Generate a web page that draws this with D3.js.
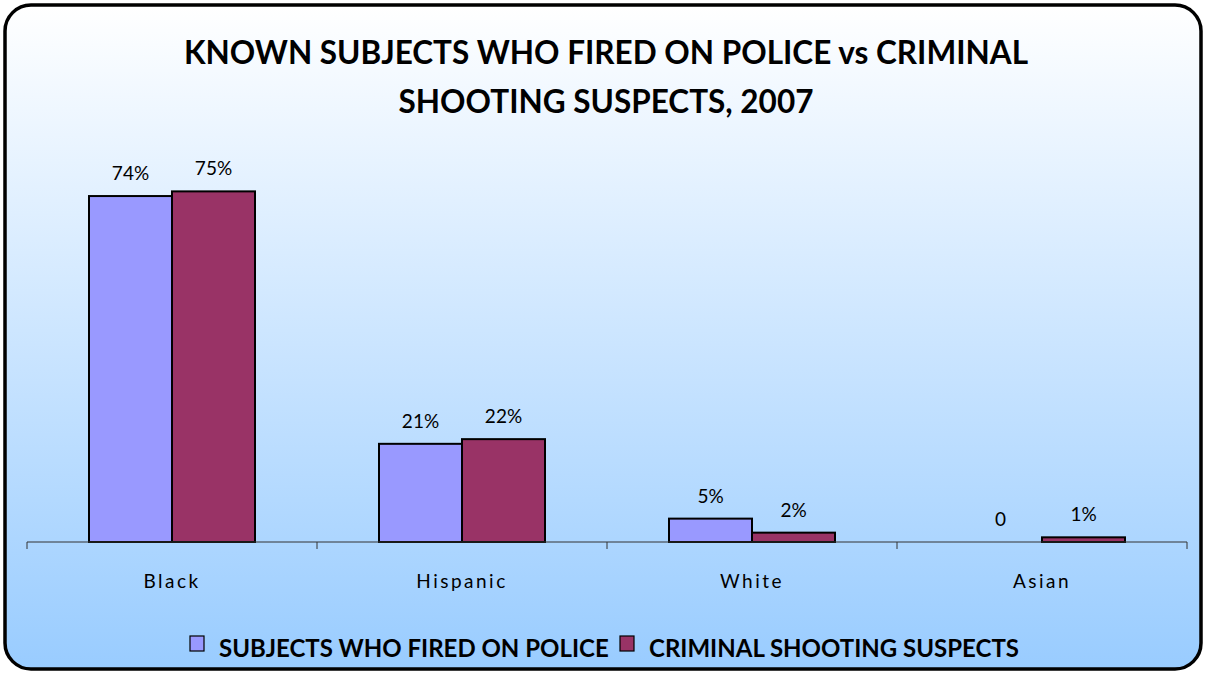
<!DOCTYPE html>
<html>
<head>
<meta charset="utf-8">
<script src="https://cdn.jsdelivr.net/npm/d3@7"></script>
<style>
  html, body { margin: 0; padding: 0; background: #ffffff; }
  svg { display: block; }
</style>
</head>
<body>
<svg id="chart" width="1206" height="673"></svg>
<script>
// Chart data
const categories = ["Black", "Hispanic", "White", "Asian"];
const seriesNames = ["SUBJECTS WHO FIRED ON POLICE", "CRIMINAL SHOOTING SUSPECTS"];
const firedOnPolice = [74, 21, 5, 0];
const shootingSuspects = [75, 22, 2, 1];
const firedLabels = ["74%", "21%", "5%", "0"];
const suspectLabels = ["75%", "22%", "2%", "1%"];
const titleLines = ["KNOWN SUBJECTS WHO FIRED ON POLICE vs CRIMINAL", "SHOOTING SUSPECTS, 2007"];

const colors = ["#9999ff", "#993366"];
const W = 1206, H = 673;
const svg = d3.select("#chart");

// Background gradient panel with rounded border
const defs = svg.append("defs");
const grad = defs.append("linearGradient").attr("id", "bg").attr("x1", 0).attr("y1", 0).attr("x2", 0).attr("y2", 1);
grad.append("stop").attr("offset", "0%").attr("stop-color", "#ffffff");
grad.append("stop").attr("offset", "100%").attr("stop-color", "#99ccff");

svg.append("rect")
  .attr("x", 5).attr("y", 5).attr("width", W - 10).attr("height", H - 9)
  .attr("rx", 26).attr("ry", 26)
  .attr("fill", "url(#bg)")
  .attr("stroke", "#000").attr("stroke-width", 3.5);

const font = "Lato, 'Open Sans', sans-serif";

// Title
svg.append("g").selectAll("text").data(titleLines).join("text")
  .attr("x", 606).attr("y", (d, i) => 64 + i * 49)
  .attr("text-anchor", "middle")
  .attr("font-family", font).attr("font-weight", "bold")
  .attr("font-size", 31.5).attr("fill", "#000")
  .text(d => d);

// Scales
const x0 = d3.scaleBand().domain(categories).range([27, 1187]).paddingInner(0).paddingOuter(0);
const x1 = d3.scaleBand().domain([0, 1]).range([62, x0.bandwidth() - 62]);
const y = d3.scaleLinear().domain([0, 80]).range([542, 168]);

const data = categories.map((c, i) => ({
  cat: c,
  vals: [
    { s: 0, v: firedOnPolice[i], label: firedLabels[i] },
    { s: 1, v: shootingSuspects[i], label: suspectLabels[i] }
  ]
}));

const groups = svg.append("g").selectAll("g").data(data).join("g")
  .attr("transform", d => `translate(${x0(d.cat)},0)`);

groups.selectAll("rect").data(d => d.vals.filter(v => v.v > 0)).join("rect")
  .attr("x", d => x1(d.s))
  .attr("y", d => y(d.v))
  .attr("width", x1.bandwidth())
  .attr("height", d => y(0) - y(d.v))
  .attr("fill", d => colors[d.s])
  .attr("stroke", "#000").attr("stroke-width", 2);

groups.selectAll("text").data(d => d.vals).join("text")
  .attr("x", d => x1(d.s) + x1.bandwidth() / 2)
  .attr("y", d => y(d.v) - 16)
  .attr("text-anchor", "middle")
  .attr("font-family", font).attr("font-size", 19).attr("fill", "#000")
  .text(d => d.label);

// Category axis
const axis = d3.axisBottom(x0).tickSize(0).tickPadding(0);
const axG = svg.append("g").attr("transform", `translate(0,${y(0)})`).call(axis);
axG.select(".domain").attr("stroke", "#333").attr("stroke-width", 1).attr("d", "M27,0H1187");
axG.selectAll(".tick text")
  .attr("dy", 0).attr("y", 46)
  .attr("font-family", font).attr("font-size", 19).attr("fill", "#000")
  .attr("letter-spacing", "2.5px");
// Category boundary tick marks
svg.append("g").selectAll("line").data(d3.range(categories.length + 1)).join("line")
  .attr("x1", i => 27 + i * x0.bandwidth()).attr("x2", i => 27 + i * x0.bandwidth())
  .attr("y1", y(0)).attr("y2", y(0) + 7)
  .attr("stroke", "#333").attr("stroke-width", 1);

// Legend
const legend = svg.append("g");
const legendX = [190, 620];
seriesNames.forEach((name, i) => {
  legend.append("rect")
    .attr("x", legendX[i]).attr("y", 636).attr("width", 14).attr("height", 15)
    .attr("fill", colors[i]).attr("stroke", "#000").attr("stroke-width", 1.2);
  legend.append("text")
    .attr("x", legendX[i] + 29).attr("y", 657)
    .attr("font-family", font).attr("font-weight", "bold").attr("font-size", 24).attr("fill", "#000")
    .text(name);
});
</script>
</body>
</html>
